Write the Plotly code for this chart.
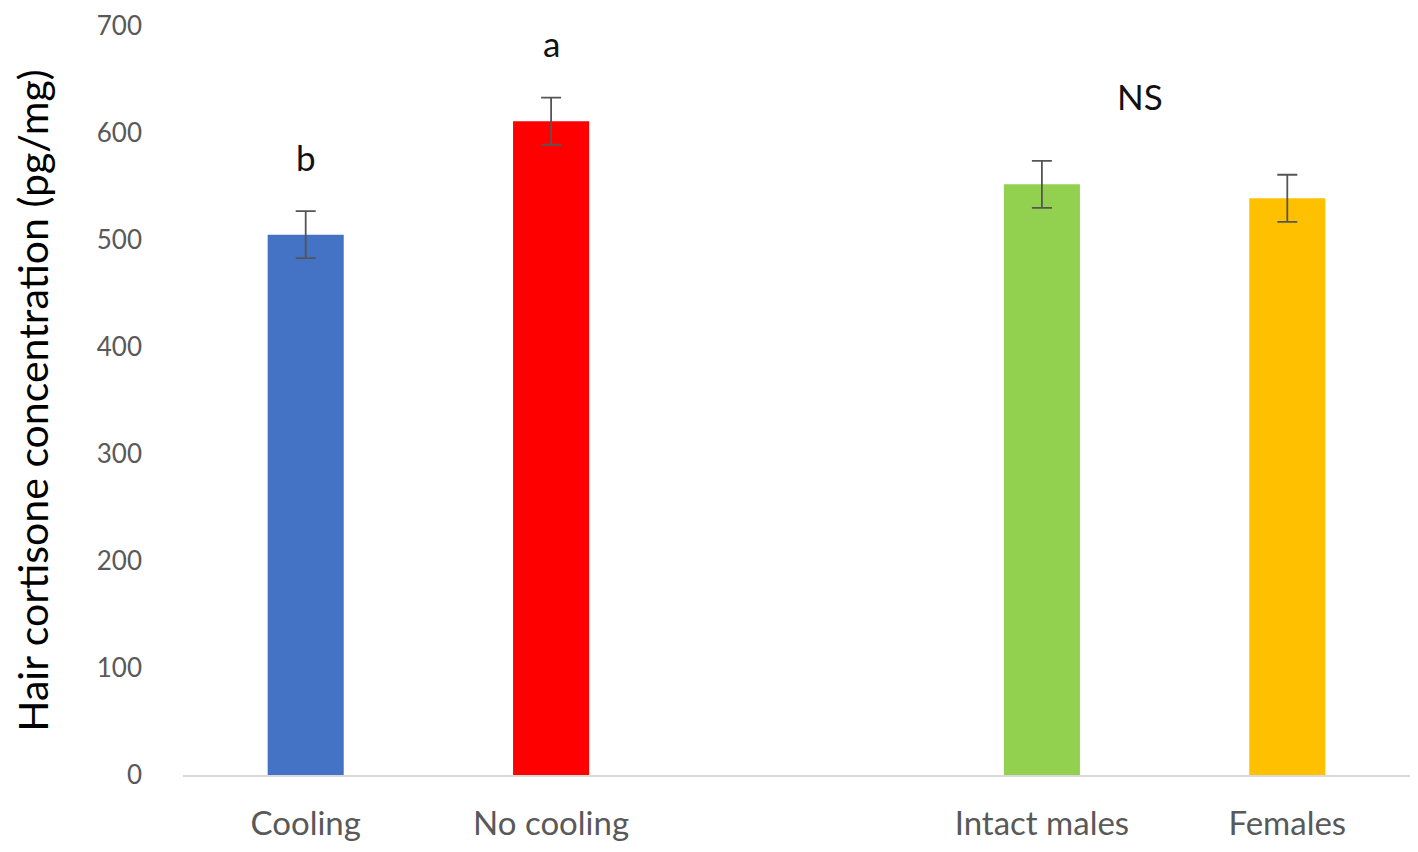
import plotly.graph_objects as go

# groups (a blank slot separates the two comparisons)
groups = ["Cooling", "No cooling", " ", "Intact males", "Females"]
means = [505, 611, None, 552, 539]
errors = [22, 22, 0, 22, 22]
colors = ["#4472C4", "#FF0000", "#FFFFFF", "#92D050", "#FFC000"]

y_ticks = [0, 100, 200, 300, 400, 500, 600, 700]

# significance letters: (x position in category units, y, text)
sig_x = [0, 1, 3.4]
sig_y = [578, 684, 635]
sig_text = ["b", "a", "NS"]

FONT = "Lato, Open Sans, sans-serif"

fig = go.Figure()
fig.add_trace(go.Bar(
    x=groups,
    y=means,
    marker=dict(color=colors, line=dict(width=0)),
    error_y=dict(type="data", array=errors, visible=True,
                 color="#555555", thickness=1.8, width=10),
    showlegend=False,
))

for xx, yy, tt in zip(sig_x, sig_y, sig_text):
    fig.add_annotation(x=xx, y=yy, text=tt, showarrow=False,
                       xref="x", yref="y",
                       font=dict(family=FONT, size=35, color="#111111"))

# page body has an 8px margin, so margins are trimmed by that much
fig.update_layout(
    width=1418, height=852,
    margin=dict(l=175, r=16, t=18, b=85, autoexpand=False),
    plot_bgcolor="white", paper_bgcolor="white",
    bargap=0.69,
    font=dict(family=FONT),
)
fig.update_xaxes(
    type="category", automargin=False,
    showgrid=False, zeroline=False,
    showline=True, linecolor="#D9D9D9", linewidth=2,
    ticks="", ticklabelstandoff=18,
    tickfont=dict(family=FONT, size=33, color="#595959"),
)
fig.update_yaxes(
    range=[0, 700], tickvals=y_ticks, automargin=False,
    showgrid=False, zeroline=False, showline=False,
    ticks="", ticklabelstandoff=40, ticklabeloverflow="allow",
    tickfont=dict(family=FONT, size=26, color="#595959"),
    title=dict(text="Hair cortisone concentration (pg/mg)",
               font=dict(family=FONT, size=41, color="#000000"),
               standoff=38),
)

fig.write_html("out.html")
